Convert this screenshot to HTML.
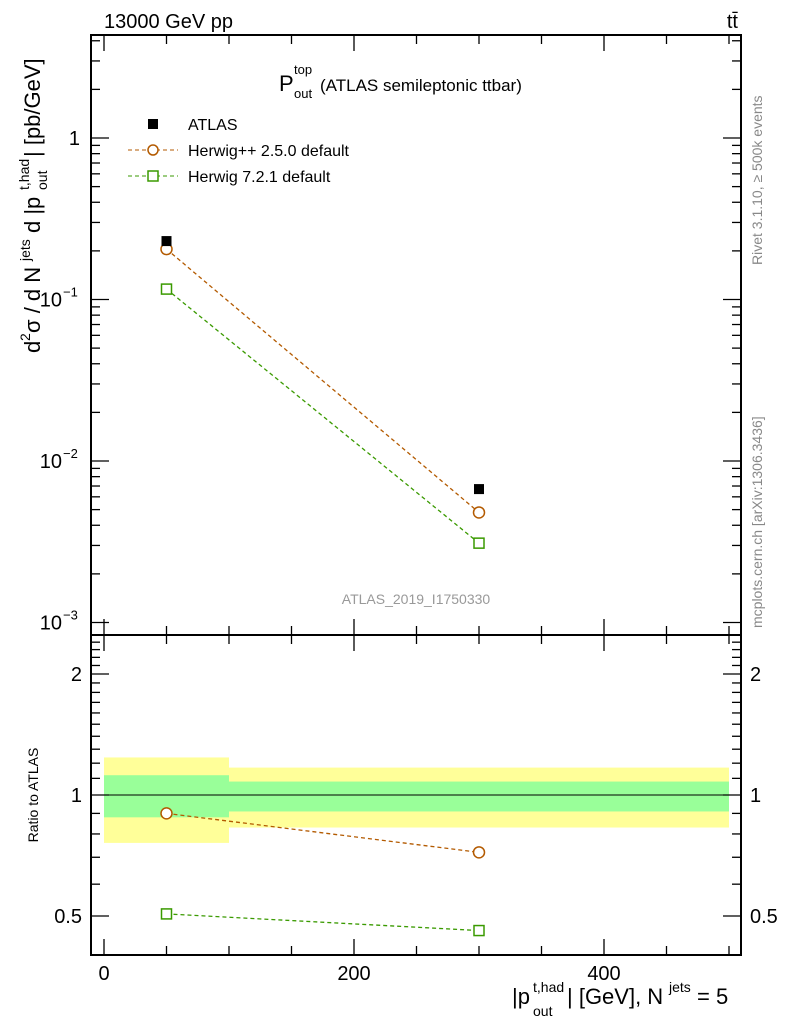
<!DOCTYPE html>
<html><head><meta charset="utf-8"><style>
body{margin:0;background:#fff;}
svg{font-family:"Liberation Sans",sans-serif;}
</style></head><body>
<svg id="c" width="786" height="1024" viewBox="0 0 786 1024" xmlns="http://www.w3.org/2000/svg">
<g id="bands"></g><g id="marks"></g><g id="axes"></g>
<text x="104" y="28" font-size="20">13000 GeV pp</text>
<text x="738" y="28" font-size="20" text-anchor="end">tt̄</text>
<g>
<text x="279" y="91" font-size="22">P</text>
<text x="294" y="74" font-size="13">top</text>
<text x="294" y="98" font-size="13">out</text>
<text x="320" y="91" font-size="17">(ATLAS semileptonic ttbar)</text>
</g>
<g>
<rect x="148" y="119" width="10" height="10" fill="#000"/>
<text x="188" y="130" font-size="16">ATLAS</text>
<line x1="128" y1="150" x2="178" y2="150" stroke="#b35a00" stroke-dasharray="4,3"/>
<circle cx="153" cy="150" r="5" fill="#fff" stroke="#b35a00" stroke-width="1.5"/>
<text x="188" y="156" font-size="16">Herwig++ 2.5.0 default</text>
<line x1="128" y1="176" x2="178" y2="176" stroke="#3a9a00" stroke-dasharray="4,3"/>
<rect x="148" y="171" width="10" height="10" fill="#fff" stroke="#3a9a00" stroke-width="1.5"/>
<text x="188" y="182" font-size="16">Herwig 7.2.1 default</text>
</g>
<text x="416" y="604" font-size="14" fill="#999" text-anchor="middle">ATLAS_2019_I1750330</text>
<text transform="translate(762,265) rotate(-90)" font-size="14" fill="#888">Rivet 3.1.10, ≥ 500k events</text>
<text transform="translate(762,628) rotate(-90)" font-size="14" fill="#888">mcplots.cern.ch [arXiv:1306.3436]</text>
<g transform="translate(40,353) rotate(-90)">
<text x="0" y="0" font-size="22">d</text>
<text x="12" y="-10" font-size="14">2</text>
<text x="20" y="0" font-size="22">σ / d N</text>
<text x="92" y="-10" font-size="14">jets</text>
<text x="120" y="0" font-size="22">d |p</text>
<text x="163" y="-11" font-size="14">t,had</text>
<text x="163" y="7" font-size="14">out</text>
<text x="196" y="0" font-size="22">| [pb/GeV]</text>
</g>
<text transform="translate(38,795) rotate(-90)" font-size="14" text-anchor="middle">Ratio to ATLAS</text>
<g>
<text x="512" y="1004" font-size="22">|p</text>
<text x="533" y="992" font-size="14">t,had</text>
<text x="533" y="1016" font-size="14">out</text>
<text x="567" y="1004" font-size="22">| [GeV], N</text>
<text x="669" y="992" font-size="14">jets</text>
<text x="697" y="1004" font-size="22">= 5</text>
</g>
</svg>
<script>
const xCenters=[50,300];
const binEdges=[0,100,500];
const atlasVals=[0.23,0.0067];
const herwigppVals=[0.205,0.0048];
const herwig7Vals=[0.116,0.0031];
const herwigppRatio=[0.9,0.72];
const herwig7Ratio=[0.506,0.46];
const bandYellowHi=[1.24,1.17];
const bandYellowLo=[0.76,0.83];
const bandGreenHi=[1.12,1.08];
const bandGreenLo=[0.88,0.91];
const xTickLabels=[0,200,400];
const yTickExps=[-3,-2,-1,0];
const ratioTickLabels=[0.5,1,2];

const L=91,R=741,T=35,M=635,B=955;
const NS="http://www.w3.org/2000/svg";
const X=v=>104+(v)*1.25;
const Y=v=>138-Math.log10(v)*161.5;
const RY=v=>795-Math.log2(v)*121;
function mk(tag,at,parent){const e=document.createElementNS(NS,tag);for(const k in at)e.setAttribute(k,at[k]);document.getElementById(parent).appendChild(e);return e;}

for(let i=0;i<2;i++){
 let e=mk('rect',{x:X(binEdges[i]),y:RY(bandYellowHi[i]),width:X(binEdges[i+1])-X(binEdges[i]),height:RY(bandYellowLo[i])-RY(bandYellowHi[i]),fill:'#ffff99'},'bands');
 
 
 e=mk('rect',{x:X(binEdges[i]),y:RY(bandGreenHi[i]),width:X(binEdges[i+1])-X(binEdges[i]),height:RY(bandGreenLo[i])-RY(bandGreenHi[i]),fill:'#99ff99'},'bands');
 
 
}
let ref=mk('line',{x1:L,x2:R,y1:RY(1),y2:RY(1),stroke:'#000','stroke-width':1},'bands');



function series(vals,yf,color,shape,name){
 const pts=vals.map((v,i)=>X(xCenters[i])+','+yf(v)).join(' ');
 const pl=mk('polyline',{points:pts,fill:'none',stroke:color,'stroke-width':1.3,'stroke-dasharray':'4,3'},'marks');
 
 
 vals.forEach((v,i)=>{
  let e;
  if(shape==='c') e=mk('circle',{cx:X(xCenters[i]),cy:yf(v),r:5.5,fill:'#fff',stroke:color,'stroke-width':1.5},'marks');
  else e=mk('rect',{x:X(xCenters[i])-5,y:yf(v)-5,width:10,height:10,fill:'#fff',stroke:color,'stroke-width':1.5},'marks');
  
  
 });
}
series(herwigppVals,Y,'#b35a00','c','herwigpp');
series(herwig7Vals,Y,'#3a9a00','s','herwig7');
atlasVals.forEach((v,i)=>{
 const e=mk('rect',{x:X(xCenters[i])-5,y:Y(v)-5,width:10,height:10,fill:'#000'},'marks');
 
 
});
series(herwigppRatio,RY,'#b35a00','c','herwigpp-ratio');
series(herwig7Ratio,RY,'#3a9a00','s','herwig7-ratio');

[[T,M],[M,B]].forEach(([a,b],k)=>{
 const f=mk('rect',{x:L,y:a,width:R-L,height:b-a,fill:'none',stroke:'#000','stroke-width':2},'axes');
 
 
});
function ln(x1,y1,x2,y2){mk('line',{x1,y1,x2,y2,stroke:'#000','stroke-width':1.3},'axes');}
for(let v=0;v<=500;v+=50){const maj=v%200===0;const len=maj?16:9;
 [T,M].forEach(t=>ln(X(v),t,X(v),t+len));
 [M,B].forEach(b=>ln(X(v),b,X(v),b-len));
}
xTickLabels.forEach(v=>{const t=mk('text',{x:X(v),y:980,'font-size':20,'text-anchor':'middle'},'axes');t.textContent=v;
 
 });
for(let d=-3;d<=0;d++){for(let m=1;m<10;m++){const v=m*Math.pow(10,d);const y=Y(v);if(y<T||y>M)continue;const len=m===1?18:9;ln(L,y,L+len,y);ln(R,y,R-len,y);}}
yTickExps.forEach(d=>{
 const y=Y(Math.pow(10,d));
 const t=mk('text',{x:d===0?80:62,y:y+7,'font-size':20,'text-anchor':'end'},'axes');
 t.textContent=d===0?'1':'10';
 
 
 if(d!==0){const s=mk('text',{x:63,y:y-3,'font-size':13},'axes');s.textContent='−'+(-d);
  
  }
});
[0.4,0.5,0.6,0.7,0.8,0.9,1,1.1,1.2,1.3,1.4,1.5,1.6,1.7,1.8,1.9,2,2.1,2.2,2.3,2.4,2.5].forEach(v=>{const y=RY(v);if(y<M||y>B)return;const len=(v===0.5||v===1||v===2)?18:9;ln(L,y,L+len,y);ln(R,y,R-len,y);});
ratioTickLabels.forEach(v=>{[[82,'end'],[750,'start']].forEach(([x,a])=>{const t=mk('text',{x,y:RY(v)+7,'font-size':20,'text-anchor':a},'axes');t.textContent=v;
 
 });});
</script>
</body></html>
